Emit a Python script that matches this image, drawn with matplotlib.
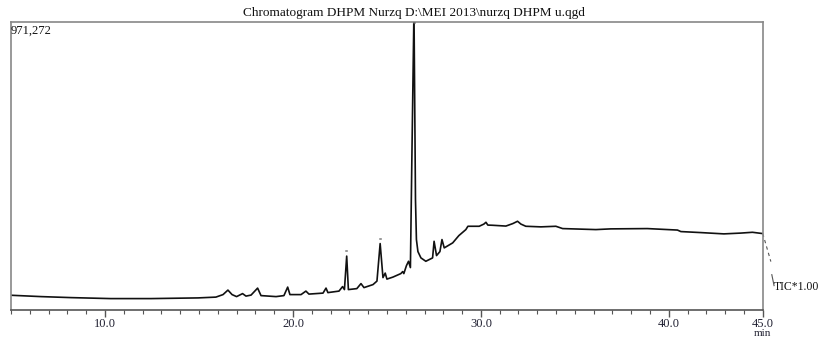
import matplotlib
matplotlib.use("Agg")
import matplotlib.pyplot as plt
from matplotlib.ticker import FixedLocator, MultipleLocator, NullLocator

plt.rcParams['font.family'] = ['Liberation Serif', 'DejaVu Serif']

# retention time (min) and TIC intensity (counts)
rt = [5.05, 6.6, 8.2, 10.3, 12.45, 14.95, 15.9, 16.28, 16.54, 16.76, 17.0,
      17.32, 17.5, 17.77, 18.12, 18.3, 19.1, 19.52, 19.72, 19.84, 20.43,
      20.69, 20.85, 21.6, 21.76, 21.86, 22.45, 22.64, 22.74, 22.86, 22.95,
      23.4, 23.62, 23.78, 24.26, 24.47, 24.64, 24.79, 24.91, 25.0, 25.32,
      25.74, 25.84, 25.9, 26.04, 26.15, 26.25, 26.33, 26.44, 26.52, 26.57,
      26.65, 26.81, 27.07, 27.43, 27.51, 27.64, 27.82, 27.93, 28.05, 28.5,
      28.83, 29.2, 29.31, 29.91, 30.16, 30.27, 30.37, 30.62, 31.33, 31.7,
      31.95, 32.13, 32.39, 33.19, 33.99, 34.35, 36.12, 36.91, 38.86, 40.46,
      40.64, 41.7, 42.93, 43.83, 44.45, 45.0]
tic = [48300, 43900, 40500, 37200, 37200, 39500, 42200, 50700, 65900, 50700, 43900,
       54000, 45600, 49000, 72600, 47300, 43900, 47300, 76000, 50700, 50700,
       62500, 52400, 55700, 72600, 57400, 62500, 77700, 67600, 180700, 67600,
       70900, 87800, 74300, 84500, 96300, 223000, 108100, 123300, 103000, 109800,
       121600, 128400, 121600, 148600, 163200, 141900, 520000, 1013000, 371600, 236500,
       195900, 174600, 163200, 174600, 230700, 182400, 195900, 236500, 208400, 225300,
       250000, 270200, 281400, 281400, 288800, 294900, 285400, 284800, 282100, 290500,
       298300, 288800, 281400, 279400, 281400, 273600, 270200, 272600, 273600, 268600,
       263500, 260100, 255700, 258400, 261100, 256700]

# labelled peaks (tiny marks above them)
peak_rt = [22.86, 24.64, 26.44]
peak_top = [180700, 223000, 950000]

x_min, x_max = 5.0, 45.0
y_max = 971272
labelled_ticks = [10, 20, 30, 40, 45]

fig = plt.figure(figsize=(8.18, 3.38), dpi=100)
ax = fig.add_axes([0.0135, 0.084, 0.919, 0.851])

ax.plot(rt, tic, color='#111111', lw=1.2)
for px, py in zip(peak_rt, peak_top):
    ax.text(px, py + 6000, '\u2261', fontsize=4, color='#666666',
            ha='center', va='bottom')

# trailing leader to the trace label
ax.plot([45.0, 45.43], [256700, 162100], color='#555555', lw=0.8, ls=(0, (3, 3)),
        clip_on=False)
ax.plot([45.48, 45.6], [118000, 81000], color='#555555', lw=0.8, clip_on=False)
ax.text(45.58, 77000, 'TIC*1.00', fontsize=8.5, color='#111111', ha='left', va='center')

ax.set_xlim(x_min, x_max)
ax.set_ylim(0, y_max)

ax.xaxis.set_major_locator(FixedLocator(labelled_ticks))
ax.xaxis.set_minor_locator(MultipleLocator(1))
ax.set_xticklabels([f'{v:.1f}' for v in labelled_ticks])
ax.tick_params(axis='x', which='major', direction='out', length=5, width=1,
               color='#555555', labelsize=9, pad=1, labelcolor='#222233')
ax.tick_params(axis='x', which='minor', direction='out', length=3, width=0.8,
               color='#555555')
ax.yaxis.set_major_locator(NullLocator())

for s in ax.spines.values():
    s.set_color('#888888')
    s.set_linewidth(1.2)
ax.spines['bottom'].set_color('#555555')

ax.text(0.0, 0.99, '971,272', transform=ax.transAxes, fontsize=9,
        ha='left', va='top', color='#111111')
ax.text(0.999, -0.068, 'min', transform=ax.transAxes, fontsize=8,
        ha='center', va='top', color='#222233')

fig.text(0.506, 0.945, 'Chromatogram DHPM Nurzq D:\\MEI 2013\\nurzq DHPM u.qgd',
         fontsize=9.5, ha='center', va='bottom', color='#111111')

fig.savefig('out.png', dpi=100)
